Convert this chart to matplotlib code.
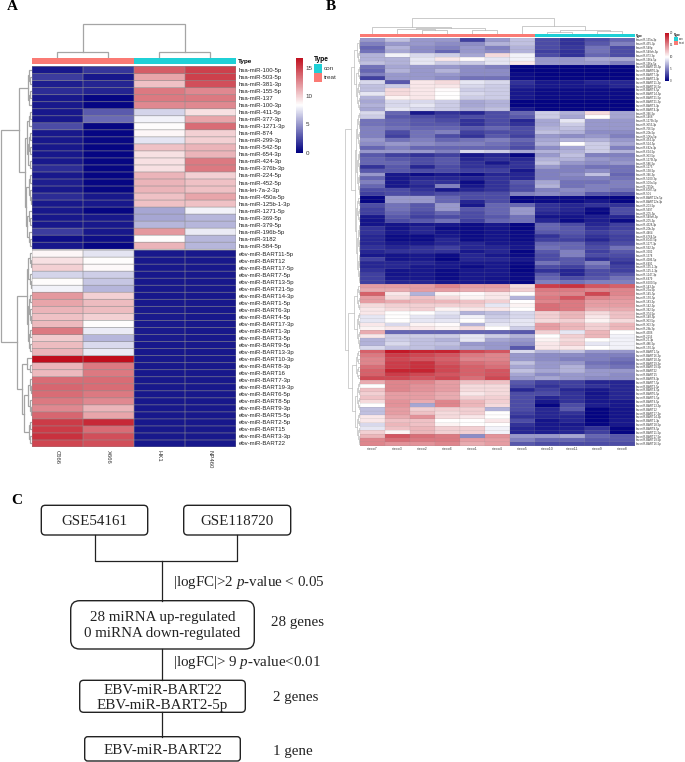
import numpy as np
import matplotlib
matplotlib.use('Agg')
import matplotlib.pyplot as plt
from matplotlib.colors import LinearSegmentedColormap
from matplotlib.patches import FancyBboxPatch, Rectangle

plt.rcParams['font.family'] = ['Liberation Sans', 'DejaVu Sans']
plt.rcParams['mathtext.fontset'] = 'custom'
plt.rcParams['mathtext.rm'] = 'Liberation Serif'
plt.rcParams['mathtext.it'] = 'Liberation Serif:italic'

W, H = 685, 762

# --- Panel A data ---
a_samples = ['C666', 'X666', 'HK1', 'NP460']
a_hsa_labels = ['hsa-miR-100-5p', 'hsa-miR-503-5p', 'hsa-miR-381-3p', 'hsa-miR-155-5p', 'hsa-miR-137',
                'hsa-miR-100-3p', 'hsa-miR-411-5p', 'hsa-miR-377-3p', 'hsa-miR-1271-3p', 'hsa-miR-874',
                'hsa-miR-299-3p', 'hsa-miR-542-5p', 'hsa-miR-654-3p', 'hsa-miR-424-3p', 'hsa-miR-376b-3p',
                'hsa-miR-224-5p', 'hsa-miR-452-5p', 'hsa-let-7a-2-3p', 'hsa-miR-450a-5p', 'hsa-miR-125b-1-3p',
                'hsa-miR-1271-5p', 'hsa-miR-369-5p', 'hsa-miR-379-5p', 'hsa-miR-196b-5p', 'hsa-miR-3182',
                'hsa-miR-584-5p']
a_hsa_values = [[0.8, 1.8, 14, 15], [2, 0.8, 11.5, 15], [1, 1.2, 10.5, 14.5], [1.5, 1.2, 13, 12.5],
                [0.8, 0.2, 13, 13], [0.8, 0.2, 12.5, 12.5], [0.8, 3, 7, 9.5], [0.8, 3.5, 8, 11.5],
                [2.5, 0.2, 8.5, 13.5], [0.8, 0.2, 8.7, 10], [0.8, 0.3, 7.5, 10], [0.8, 0.2, 10.5, 11],
                [0.8, 0.2, 9.5, 11], [0.8, 0.2, 9.5, 13], [1.5, 0.2, 9.5, 13], [0.8, 0.2, 11, 10],
                [1, 0.2, 11, 10.5], [0.8, 0.2, 11, 10.5], [1.5, 0.8, 10.5, 11.5], [0.8, 0.8, 10.5, 10.5],
                [0.8, 0.2, 5.5, 8], [0.8, 0.8, 5.5, 6], [0.8, 0.8, 6, 6], [2, 0.8, 12, 7.7],
                [0.5, 0.5, 8.5, 6], [0.8, 0.2, 11, 6]]
a_ebv_labels = ['ebv-miR-BART11-5p', 'ebv-miR-BART12', 'ebv-miR-BART17-5p', 'ebv-miR-BART7-5p',
                'ebv-miR-BART13-5p', 'ebv-miR-BART21-5p', 'ebv-miR-BART14-3p', 'ebv-miR-BART1-5p',
                'ebv-miR-BART6-3p', 'ebv-miR-BART4-5p', 'ebv-miR-BART17-3p', 'ebv-miR-BART1-3p',
                'ebv-miR-BART3-5p', 'ebv-miR-BART9-5p', 'ebv-miR-BART13-3p', 'ebv-miR-BART10-3p',
                'ebv-miR-BART8-3p', 'ebv-miR-BART16', 'ebv-miR-BART7-3p', 'ebv-miR-BART19-3p',
                'ebv-miR-BART6-5p', 'ebv-miR-BART8-5p', 'ebv-miR-BART9-3p', 'ebv-miR-BART5-5p',
                'ebv-miR-BART2-5p', 'ebv-miR-BART15', 'ebv-miR-BART3-3p', 'ebv-miR-BART22']
a_ebv_values = [[8.7, 7.5, 0.8, 0.8], [9.5, 8.5, 0.8, 0.8], [10, 8.6, 0.8, 0.8], [7, 6.8, 0.8, 0.8],
                [8.5, 6.5, 0.8, 0.8], [8, 6, 0.8, 0.8], [12, 10, 0.8, 0.8], [11.5, 10.7, 0.8, 0.8],
                [11, 10.7, 0.9, 0.8], [10.5, 10, 0.9, 0.8], [10.8, 8.5, 0.9, 0.8], [13, 7.7, 0.9, 0.8],
                [10.2, 6, 0.9, 0.8], [10.7, 7.2, 0.8, 0.8], [11, 7.7, 0.8, 0.8], [16.8, 16.8, 0.8, 0.8],
                [11, 13, 0.8, 0.8], [10.8, 13, 0.8, 0.8], [13.5, 13.5, 0.8, 0.8], [13.7, 13.5, 0.8, 0.8],
                [13.5, 13, 0.8, 0.8], [13, 12.5, 0.8, 0.8], [12.5, 11, 0.8, 0.8], [13.7, 11.5, 0.8, 0.8],
                [15.2, 15.8, 0.8, 0.8], [15.2, 13.5, 0.8, 0.8], [15.5, 14.5, 0.8, 0.8], [14.8, 14.5, 0.8, 0.8]]
a_types = [1, 1, 0, 0]

# --- Panel B data ---
b_samples = ['niexo7', 'niexo3', 'niexo2', 'niexo6', 'niexo1', 'niexo4', 'niexo5', 'niexo10', 'niexo11', 'niexo9',
             'niexo8']
b_types = [1, 1, 1, 1, 1, 1, 1, 0, 0, 0, 0]
b_labels = ['hsa-miR-135a-3p', 'hsa-miR-455-3p', 'hsa-miR-548p', 'hsa-miR-548ah-5p', 'hsa-miR-873-3p',
            'hsa-miR-196b-5p', 'hsa-miR-196a-5p', 'ebv-miR-BART10-5p', 'ebv-miR-BART6-3p', 'ebv-miR-BART7-3p',
            'ebv-miR-BART2-3p', 'ebv-miR-BART11-3p', 'ebv-miR-BART16-5p', 'ebv-miR-BART9-5p', 'ebv-miR-BART14-5p',
            'ebv-miR-BART21-5p', 'ebv-miR-BART21-3p', 'ebv-miR-BART3-3p', 'ebv-miR-BART4-3p', 'hsa-miR-346-5p',
            'hsa-miR-1468', 'hsa-miR-1273h-5p', 'hsa-miR-3653-3p', 'hsa-miR-766-5p', 'hsa-miR-20b-5p',
            'hsa-miR-106a-5p', 'hsa-miR-454-3p', 'hsa-miR-524-5p', 'hsa-miR-642a-3p', 'hsa-miR-624-5p',
            'hsa-miR-363-5p', 'hsa-miR-1273f-5p', 'hsa-miR-586-5p', 'hsa-miR-1275', 'hsa-miR-138-5p',
            'hsa-miR-346-3p', 'hsa-miR-5100-3p', 'hsa-miR-100a-5p', 'hsa-miR-7250c', 'hsa-miR-6087-5p',
            'hsa-miR-501', 'ebv-miR-BART12a-5p', 'ebv-miR-BART12a-3p', 'hsa-miR-203-5p', 'hsa-miR-5697',
            'hsa-miR-205-5p', 'hsa-miR-548ah-3p', 'hsa-miR-205-3p', 'hsa-miR-4328-3p', 'hsa-miR-20b-3p',
            'hsa-miR-4464', 'hsa-miR-6764-5p', 'hsa-miR-6043-5p', 'hsa-miR-1277-3p', 'hsa-miR-592-3p',
            'hsa-miR-3202', 'hsa-miR-1378', 'hsa-miR-4286-5p', 'hsa-miR-6491', 'hsa-miR-135-1-3p',
            'hsa-miR-125-1-3p', 'hsa-miR-1247-3p', 'hsa-miR-6479', 'hsa-miR-6500-5p', 'hsa-miR-143-3p',
            'hsa-miR-25a-5p', 'hsa-miR-145-5p', 'hsa-miR-150-5p', 'hsa-miR-183-3p', 'hsa-miR-142-3p',
            'hsa-miR-342-5p', 'hsa-miR-374-5p', 'hsa-miR-148-5p', 'hsa-miR-363-5p', 'hsa-miR-363-3p',
            'hsa-miR-29b-3p', 'hsa-miR-4306', 'hsa-miR-2116', 'hsa-miR-25-3p', 'hsa-miR-486-5p',
            'hsa-miR-150-3p', 'ebv-miR-BART1-5p', 'ebv-miR-BART16-3p', 'ebv-miR-BART10-3p', 'ebv-miR-BART19-3p',
            'ebv-miR-BART19-5p', 'ebv-miR-BART22', 'ebv-miR-BART15', 'ebv-miR-BART8-3p', 'ebv-miR-BART7-5p',
            'ebv-miR-BART3-5p', 'ebv-miR-BART4-5p', 'ebv-miR-BART6-5p', 'ebv-miR-BART5-5p', 'ebv-miR-BART9-5p',
            'ebv-miR-BART13-3p', 'ebv-miR-BART12', 'ebv-miR-BART17-3p', 'ebv-miR-BART14-3p', 'ebv-miR-BART1-3p',
            'ebv-miR-BART18-5p', 'ebv-miR-BART8-5p', 'ebv-miR-BART11-5p', 'ebv-miR-BART17-5p', 'ebv-miR-BART19-5p',
            'ebv-miR-BART16-5p']
b_values = [
    [6, 7.5, 6, 6, 2.5, 6, 7.5, 3, 2, 3, 4], [5, 6, 6, 5.5, 5.5, 7, 7.5, 3, 2, 3.5, 5],
    [4, 7, 5.5, 5, 6, 5, 7, 3, 2.2, 4.5, 3], [4.5, 6.5, 5.5, 4, 6, 5.5, 7, 2.5, 2, 4.5, 3],
    [7, 9.5, 8.5, 8, 6.5, 11.5, 9.5, 3, 2, 4, 3], [7, 7, 9, 11, 10.2, 9, 9.5, 6, 6, 6.5, 6.5],
    [7.5, 7, 9, 8, 8, 9, 11, 6, 6, 6, 5],
    [4.5, 6.5, 6, 6, 5.5, 5, 0.2, 0.2, 0.2, 0.2, 0.2], [4, 7, 6, 7, 5.5, 5.5, 0.2, 0.2, 0.2, 0.2, 0.2],
    [5, 6, 6, 6, 5.5, 5.5, 0.5, 0.2, 0.2, 0.2, 0.2], [2.5, 6, 6, 5.5, 4.5, 4.5, 0.5, 0.3, 0.3, 0.3, 0.3],
    [8.5, 3.5, 11, 11.5, 9, 8.5, 2, 1, 1, 1.5, 1.5], [7.5, 8, 11, 11, 8.5, 8, 1.5, 1, 1, 1, 1.5],
    [7.5, 11.5, 11, 10.2, 8, 8, 1, 0.5, 0.5, 0.5, 0.5], [9, 11.5, 11, 10, 8.5, 8, 1, 0.5, 0.5, 0.5, 0.5],
    [7, 10.5, 11, 10, 8, 8, 1, 0.5, 0.5, 0.5, 0.5], [6.5, 8.5, 8.5, 8, 6.5, 7, 0.2, 0.2, 0.2, 0.2, 0.2],
    [7, 8.5, 9, 8, 6.5, 7, 0.2, 0.2, 0.2, 0.2, 0.2], [6.5, 9, 8.5, 8, 7, 7.5, 1, 0.3, 0.3, 0.3, 0.3],
    [8.5, 4, 1, 2, 1.5, 3, 4, 8, 7, 11.5, 6.5], [8, 3.5, 3, 2.5, 3, 3, 3.5, 8, 6.5, 10, 6.5],
    [4.5, 4, 3.5, 3, 2, 3, 1.5, 6.5, 9, 6, 6], [4.5, 4, 3.5, 3.5, 2, 3, 2, 6.5, 8, 6, 6],
    [5, 4.5, 4, 4, 3.5, 4, 3, 7, 7.5, 6, 6], [5, 3, 4.5, 5, 2.5, 3, 3, 7.5, 7, 5.5, 5.5],
    [5, 2.5, 4.5, 3, 2, 3.5, 2.5, 6, 5.5, 6, 5], [6, 4.5, 5, 4, 4.5, 5, 4, 6.5, 7, 7, 6],
    [5.5, 6, 5.5, 5, 5, 4.5, 3.5, 7, 10, 8, 6.5], [4, 5, 4, 4, 4, 4, 3, 5.5, 6.5, 8, 5],
    [6, 6, 6, 5, 8.5, 8, 6.5, 7, 7, 8, 7], [3.5, 2.5, 2, 2.5, 1, 1.5, 0.3, 6, 7.5, 5, 5],
    [4, 3.5, 3, 3.5, 1.5, 2, 1.5, 7, 7, 6, 5.5], [4, 4, 3, 3.5, 2, 1, 2, 7.5, 6, 5.5, 6],
    [2, 3.5, 1.5, 3, 2, 2, 2, 6, 5, 4.5, 4.5], [3.5, 3.5, 3, 3, 2.5, 2.5, 1, 5, 5, 5.5, 4.5],
    [6, 1, 0.5, 1, 0.5, 1.5, 1.5, 5, 5.5, 7.5, 4], [4, 1, 1.5, 1.5, 1.5, 2, 1.5, 5, 5, 5, 4.5],
    [5, 1, 2, 2, 0.5, 2, 3.5, 6.5, 4.5, 4.5, 5], [4, 1, 1.5, 5, 1, 2, 3, 7, 4.5, 5, 5],
    [3, 3, 2, 1, 1.5, 2, 3, 5, 5.5, 5, 4.5], [2.5, 3, 2.5, 3, 3, 3, 5, 5.5, 5, 3.5, 3],
    [0.3, 6, 6, 4, 3, 3, 0.3, 0.5, 0.5, 0.3, 0.3], [0.3, 6, 6, 4, 1.5, 3, 0.3, 0.5, 0.5, 1, 0.3],
    [3, 4.5, 3.5, 6, 1, 4, 4, 2, 1.5, 2, 2], [2.5, 4.5, 3.5, 6, 3.5, 4, 6, 2, 1.5, 0.5, 3],
    [2.5, 4, 3, 4, 3, 4, 6, 1.5, 1.2, 0.3, 3], [1, 3.5, 2.5, 3, 3, 3.5, 4.5, 0.8, 0.8, 1.2, 1.5],
    [0.8, 3, 3.5, 4.5, 2.5, 4, 4.5, 1.5, 0.5, 1.2, 0.5], [0.8, 0.8, 1, 1, 0.5, 1, 0.3, 4, 3, 1.5, 2.5],
    [2, 0.8, 1.5, 0.5, 0.5, 0.8, 0.3, 4, 3.5, 2, 2.5], [2, 1, 1.5, 0.8, 0.5, 0.8, 0.5, 3.5, 3.5, 2.5, 3],
    [1.5, 0.5, 0.5, 1, 0.5, 0.8, 0.5, 2, 3, 2, 2.5], [1.5, 0.5, 0.5, 1.5, 0.5, 0.8, 0.5, 2.5, 2.5, 1.5, 2.5],
    [1.5, 1, 1, 1.5, 1.5, 1, 0.8, 4, 4, 2.5, 3], [2, 1.5, 2, 2.5, 1.5, 1.5, 1, 4.5, 4, 3, 4.5],
    [1.5, 2, 2, 2, 1, 1.5, 0.3, 3.5, 5, 2.5, 3.5], [1, 0.8, 1, 0.5, 1.5, 1, 0.5, 3, 5, 3, 3],
    [2.5, 0.8, 1, 0.3, 1.5, 1.5, 1, 3, 3.5, 2, 2.5], [1.5, 1.5, 1.5, 1, 1, 1, 0.5, 4.5, 3.5, 5, 2],
    [1.5, 1.5, 1, 1, 0.5, 1, 0.3, 3, 2.5, 4, 2.5], [2, 0.8, 1, 0.5, 1, 1, 0.3, 2, 1.5, 3, 2.5],
    [2.5, 0.8, 1, 0.5, 1, 1, 0.5, 3.5, 1.5, 3, 3.5], [2.5, 1, 1, 0.5, 1, 0.8, 0.5, 4, 3, 3.5, 4.5],
    [2.5, 1.5, 1.5, 1, 1, 0.8, 0.3, 5, 4.5, 5, 5],
    [14, 14, 14, 15, 14, 14, 11.5, 18, 18.5, 17, 16.5], [13.5, 13.5, 14, 14, 13.5, 13.5, 12, 15.5, 15.5, 15, 15],
    [16.5, 11, 7, 10.5, 10.2, 11, 10, 15, 15, 17.5, 15], [14, 11.5, 12.5, 11.5, 10.5, 11, 7, 15.5, 17, 15, 14.5],
    [14, 13.5, 13, 13, 12.5, 12, 10, 15, 15.5, 14, 14], [11.5, 12, 12, 12, 12, 9, 10.5, 16, 15.5, 14, 14],
    [11, 11.5, 12, 10.5, 11, 11, 10, 16, 15.5, 13.5, 13.5], [11, 10, 10, 9, 7, 7.5, 8.5, 12, 13, 11.5, 12.5],
    [9, 10, 9, 8.5, 9.5, 8, 8.5, 12, 13, 11, 12.5], [9, 10, 9, 9, 10, 8.5, 9, 11.5, 12, 10.5, 11.5],
    [11, 8.5, 10.5, 10.2, 7, 9, 9, 14, 13, 12, 13], [10.5, 11, 11, 10.5, 11.5, 10, 8, 14, 13, 12, 13],
    [13.5, 4, 4, 4, 4, 4, 3.5, 12, 9, 13, 10], [11, 8, 8, 8, 9, 8, 7, 10, 12, 13, 9.5],
    [7, 8, 7.5, 7, 9, 6.5, 6, 10.5, 11.5, 10, 9.5], [7, 8.5, 7.5, 7.5, 6, 6, 5.5, 11, 12, 9, 9.5],
    [8.5, 7.5, 7.5, 7, 6.5, 6, 3.5, 11, 11, 10, 9.5],
    [16.5, 19.5, 19, 19, 17.5, 17, 8.5, 7, 7.5, 6, 6], [15.5, 18, 17.5, 17, 15.5, 15, 6, 5.5, 5.5, 5, 5],
    [15, 17.5, 17, 16.5, 15, 15, 6, 5.5, 5, 5, 4.5], [15, 18, 18.5, 17, 16, 15.5, 7.5, 6, 6, 4.5, 4],
    [16, 18, 18.5, 17.5, 16.5, 16, 6.5, 6, 7, 5, 4.5], [16.5, 19, 19, 17.5, 16.5, 17, 7.5, 6.5, 7, 6, 6],
    [16.5, 18, 17.5, 17, 16.5, 17, 6.5, 5.5, 6, 6, 5.5], [17.5, 17.5, 17, 17.5, 16, 17.5, 6, 6.5, 6, 5.5, 5.5],
    [13.5, 15, 15, 14, 12.5, 12.5, 3.5, 2.5, 2.5, 1.5, 1.5], [10, 15, 14.5, 14, 11.5, 11.5, 3, 2, 2.5, 2, 1.5],
    [12.5, 15, 14.5, 14, 11.5, 11.5, 1.5, 2.5, 1.5, 1, 1.5], [12, 14, 14, 13.5, 11, 11.5, 3, 3, 2, 0.8, 1.5],
    [12.5, 14, 14, 13.5, 12, 12, 3, 1.5, 2, 1, 1.5], [11.5, 14.5, 13.5, 15, 13, 12, 3, 1, 2, 1, 1],
    [10, 14.5, 6.5, 15, 13, 11.5, 3, 0.3, 3, 1.2, 1], [7.5, 14, 12, 12, 12, 7, 3, 1.5, 3.5, 0.2, 0.8],
    [7.5, 14, 12.5, 11.5, 12, 10, 2.5, 1.5, 2, 0.2, 0.8], [11, 13.5, 14.5, 11.5, 11, 10, 2, 1.5, 1.5, 0.2, 0.8],
    [11, 12.5, 12.5, 10, 10, 11, 3, 0.8, 1.5, 0.2, 1], [8.5, 13, 12.5, 10.5, 10, 10, 2, 1, 1, 0.3, 1],
    [9, 12.5, 13, 12, 12, 9.5, 1.5, 1, 1.2, 2, 0.3], [12, 10.5, 13, 12, 12, 9.5, 1.5, 1.2, 1.5, 2.5, 0.3],
    [13, 17, 16, 15.5, 5.5, 14.5, 6, 6, 6.5, 4, 3.5], [15, 16, 15.5, 15.5, 14, 14, 5, 4, 4, 3.5, 3.5],
    [15, 14.5, 14.5, 15, 13.5, 14, 3.5, 3, 3, 3, 3],
]

# --- Panel C text ---
flow_boxes = ['GSE54161', 'GSE118720', '28 miRNA up-regulated\n0 miRNA down-regulated',
              'EBV-miR-BART22\nEBV-miR-BART2-5p', 'EBV-miR-BART22']
flow_filters = ['|logFC|>2 $\\mathit{p}$-value < 0.05', '|logFC|> 9 $\\mathit{p}$-value<0.01']
flow_counts = ['28 genes', '2 genes', '1 gene']

CON = '#1fd0d6'
TREAT = '#fa7a74'
cmap = LinearSegmentedColormap.from_list('nwr', ['#000080', '#ffffff', '#c00d1c'])


def px_axes(fig, x0, y0, x1, y1):
    # box given in image pixels, y from the top
    ax = fig.add_axes([x0 / W, 1 - y1 / H, (x1 - x0) / W, (y1 - y0) / H])
    return ax


def span(a, b, h):
    # balanced bit of tree over leaves a..b-1
    if b - a == 1:
        return a
    m = (a + b) // 2
    return (h, span(a, m, h * 0.65), span(m, b, h * 0.65))


def draw_tree(ax, node, vertical, color, lw):
    # node = leaf index or (height, left, right), returns (leaf position, height)
    if not isinstance(node, tuple):
        return node + 0.5, 0
    h, left, right = node
    p1, h1 = draw_tree(ax, left, vertical, color, lw)
    p2, h2 = draw_tree(ax, right, vertical, color, lw)
    if vertical:
        ax.plot([h1, h, h, h2], [p1, p1, p2, p2], color=color, lw=lw, solid_joinstyle='miter')
    else:
        ax.plot([p1, p1, p2, p2], [h1, h, h, h2], color=color, lw=lw, solid_joinstyle='miter')
    return (p1 + p2) / 2, h


def cell_lines(ax, ys, ncol, lw, alpha):
    # thin grey cell borders, not snapped so they stay faint
    for c in ax.hlines(ys, 0, ncol, color='#8f8f8f', lw=lw, alpha=alpha), \
            ax.vlines(np.arange(ncol + 1), ys[0], ys[-1], color='#8f8f8f', lw=lw, alpha=alpha):
        c.set_snap(False)


def annotation_bar(ax, types):
    ax.pcolormesh([types], cmap=LinearSegmentedColormap.from_list('t', [CON, TREAT]), vmin=0, vmax=1)
    ax.axis('off')


def type_legend(ax, x, y, w, h, size, tx):
    ax.text(x, y - h * 0.55, 'Type', fontsize=size, fontweight='bold', ha='left', va='center')
    ax.add_patch(Rectangle((x, y), w, h, fc=CON, ec='none'))
    ax.add_patch(Rectangle((x, y + h), w, h, fc=TREAT, ec='none'))
    ax.text(tx, y + h / 2, 'con', fontsize=size * 0.95, va='center', color='#333333')
    ax.text(tx, y + h * 1.5, 'treat', fontsize=size * 0.95, va='center', color='#333333')


fig = plt.figure(figsize=(W / 100, H / 100), dpi=100)

# overlay in pixel coordinates for letters, legends and the flow chart
bg = fig.add_axes([0, 0, 1, 1])
bg.set_xlim(0, W)
bg.set_ylim(H, 0)
bg.axis('off')

serif = ['Liberation Serif', 'DejaVu Serif']
bg.text(7, 6, 'A', family=serif, fontsize=11, fontweight='bold', va='center')
bg.text(326, 7, 'B', family=serif, fontsize=11, fontweight='bold', va='center')
bg.text(11, 500, 'C', family=serif, fontsize=11, fontweight='bold', va='center')

# --- A ---
a_hsa = np.array(a_hsa_values)
a_ebv = np.array(a_ebv_values)
n1, n2 = len(a_hsa), len(a_ebv)
gap = 0.12

ax = px_axes(fig, 32, 66.5, 236, 447)
m = ax.pcolormesh(np.arange(5), np.arange(n1 + 1), a_hsa, cmap=cmap, vmin=0, vmax=16.8)
ax.pcolormesh(np.arange(5), np.arange(n2 + 1) + n1 + gap, a_ebv, cmap=cmap, vmin=0, vmax=16.8)
cell_lines(ax, np.arange(n1 + 1), 4, 0.6, 0.7)
cell_lines(ax, np.arange(n2 + 1) + n1 + gap, 4, 0.6, 0.7)
ax.set_xlim(0, 4)
ax.set_ylim(n1 + n2 + gap, 0)
ax.set_yticks(np.r_[np.arange(n1) + 0.5, np.arange(n2) + n1 + gap + 0.5])
ax.set_yticklabels(a_hsa_labels + a_ebv_labels, fontsize=4.3, color='#222222')
ax.yaxis.tick_right()
ax.set_xticks(np.arange(4) + 0.5)
ax.set_xticklabels(a_samples, rotation=270, fontsize=4.3, color='#333333')
ax.tick_params(length=0, pad=2)
for s in ax.spines.values():
    s.set_visible(False)

annotation_bar(px_axes(fig, 32, 58, 236, 64), a_types)
bg.text(238, 61.5, 'Type', fontsize=4.6, fontweight='bold', va='center')

# column tree
tax = px_axes(fig, 32, 23, 236, 58)
draw_tree(tax, (34, (5.7, 0, 1), (5.7, 2, 3)), False, '#a5a5a5', 0.9)
tax.set_xlim(0, 4)
tax.set_ylim(0, 35)
tax.axis('off')

# row tree, heights in pixels left of the heat map
a_top = (13, (4, (3, 0, span(1, 3, 2)), (2.5, span(3, 5, 1.5), 5)),
         (7, (5, (3, span(6, 8, 2), 8), (4, span(9, 13, 2.5), span(13, 15, 2))),
          (6, span(15, 20, 3), (5, span(20, 23, 3), span(23, 26, 3)))))
a_low = (15, (5, (3.5, span(26, 29, 2), span(29, 32, 2)), (4, span(32, 37, 3), span(37, 41, 2.5))),
         (10, (4.5, 41, span(42, 44, 2)),
          (8, (4, span(44, 47, 2), span(47, 50, 2)), (3, span(50, 52, 1.5), span(52, 54, 1.5)))))
tax = px_axes(fig, 0, 66.5, 32, 447)
draw_tree(tax, (31, a_top, a_low), True, '#a5a5a5', 0.9)
tax.set_xlim(32, 0)
tax.set_ylim(n1 + n2 + gap, 0)
tax.axis('off')

cax = px_axes(fig, 296, 57.5, 302.7, 152.7)
cb = fig.colorbar(m, cax=cax, ticks=[0, 5, 10, 15])
cb.ax.tick_params(length=0, labelsize=4.5, pad=2, labelcolor='#333333')
cb.outline.set_visible(False)

type_legend(bg, 314, 64, 8.5, 9, 4.8, 324)

# --- B ---
b = np.array(b_values)
ax = px_axes(fig, 360, 38, 634.7, 445.7)
m2 = ax.pcolormesh(b, cmap=cmap, vmin=0, vmax=20)
cell_lines(ax, np.arange(len(b) + 1), len(b_samples), 0.25, 0.45)
ax.set_ylim(len(b), 0)
ax.set_yticks(np.arange(len(b)) + 0.5)
ax.set_yticklabels(b_labels, fontsize=2.0, color='#333333')
ax.yaxis.tick_right()
ax.set_xticks(np.arange(len(b_samples)) + 0.5)
ax.set_xticklabels(b_samples, fontsize=2.6, color='#444444')
ax.tick_params(length=0, pad=1)
for s in ax.spines.values():
    s.set_visible(False)

annotation_bar(px_axes(fig, 360, 33.5, 634.7, 37), b_types)
bg.text(635.5, 35.5, 'Type', fontsize=2.2, fontweight='bold', va='center')

tax = px_axes(fig, 360, 15, 634.7, 33.5)
draw_tree(tax, (16, (6.5, 0, (5.5, (4.5, 1, (3.5, 2, 3)), (4, 4, 5))), (8, 6, (3.5, (1.5, 7, 8), (2.5, 9, 10)))),
          False, '#b5b5b5', 0.5)
tax.set_xlim(0, 11)
tax.set_ylim(0, 18.5)
tax.axis('off')

b_up = (9, (6, (3, span(0, 3, 1.5), span(3, 7, 2)), (4, span(7, 11, 2), span(11, 19, 3))),
        (5, (4, span(19, 29, 3), span(29, 41, 3)), (4.5, span(41, 48, 3), span(48, 64, 3))))
b_low = (12, (6, span(64, 71, 3), span(71, 81, 3)), (8, span(81, 89, 4), span(89, 106, 5)))
tax = px_axes(fig, 344, 38, 360, 445.7)
draw_tree(tax, (15.5, b_up, b_low), True, '#bdbdbd', 0.5)
tax.set_xlim(16, 0)
tax.set_ylim(len(b), 0)
tax.axis('off')

cax = px_axes(fig, 665, 33, 668.7, 81)
cb = fig.colorbar(m2, cax=cax, ticks=[0, 5, 10, 15, 20])
cb.ax.tick_params(length=0, labelsize=2.2, pad=1, labelcolor='#333333')
cb.outline.set_visible(False)

type_legend(bg, 674, 37, 4.5, 4, 2.2, 679)

# --- C flow chart ---
box_px = [(41.3, 505.3, 147.7, 535, 4), (183.7, 505.3, 290.7, 535, 4), (70.7, 600.7, 254.3, 649, 9),
          (79.7, 680.3, 245.3, 712.3, 4), (84.7, 736.7, 240.3, 761, 3)]
for x0, y0, x1, y1, r in box_px:
    bg.add_patch(FancyBboxPatch((x0, y0), x1 - x0, y1 - y0, boxstyle=f'round,pad=0,rounding_size={r}',
                                fc='white', ec='#222222', lw=1.0))
links = [([94.7, 94.7, 237.3, 237.3], [535, 561.3, 561.3, 535]), ([162.3, 162.3], [561.3, 600.7]),
         ([162.3, 162.3], [649, 680.3]), ([162.3, 162.3], [712.3, 736.7])]
for xs, ys in links:
    bg.plot(xs, ys, color='#222222', lw=0.9)
bg.set_xlim(0, W)
bg.set_ylim(H, 0)

fs = 10.8
box_text_px = [(94.5, 521.7), (237.2, 521.7), (162.5, 625.5), (162.5, 698), (162.5, 750)]
for (x, y), s in zip(box_text_px, flow_boxes):
    bg.text(x, y, s, family=serif, fontsize=fs, ha='center', va='center', linespacing=1.25, color='#222222')
for y, s in zip([582.7, 662.7], flow_filters):
    bg.text(172.7, y, s, family=serif, fontsize=fs, va='center', color='#222222')
for (x, y), s in zip([(271, 622.7), (272.7, 697), (273, 751.7)], flow_counts):
    bg.text(x, y, s, family=serif, fontsize=fs, va='center', color='#222222')

fig.savefig('out.png', dpi=100)
